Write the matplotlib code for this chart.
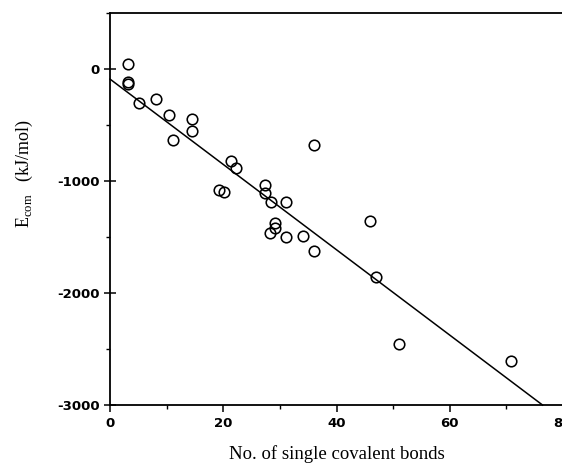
#!/usr/bin/env python3
"""Scatter of E_com against number of single covalent bonds, with fit line."""
import matplotlib

matplotlib.use("Agg")
import matplotlib.pyplot as plt
import numpy as np
from matplotlib.ticker import MultipleLocator

# data
BONDS = [3.2, 3.2, 3.2, 5.1, 8.1, 10.4, 11.1, 14.5, 14.5, 21.3, 22.2, 36.0,
         19.2, 20.1, 27.3, 27.3, 28.4, 31.0, 29.1, 29.1, 28.2, 31.0, 34.0,
         36.0, 46.0, 46.9, 51.0, 70.9]
ECOM = [45, -116, -135, -304, -268, -411, -634, -446, -554, -821, -884, -679,
        -1080, -1098, -1036, -1107, -1188, -1188, -1375, -1420, -1464, -1500,
        -1491, -1625, -1357, -1857, -2455, -2607]
FIT_X = [0, 76.4]
FIT_INTERCEPT = -90
FIT_SLOPE = -38.1

plt.rcParams.update({
    "axes.unicode_minus": False,
    "font.family": "DejaVu Sans",
})

fig = plt.figure(figsize=(5.62, 4.66), dpi=100)
ax = fig.add_axes([110 / 562, 1 - 405 / 466, 453 / 562, (405 - 13) / 466])

fx = np.array(FIT_X)
ax.plot(fx, FIT_INTERCEPT + FIT_SLOPE * fx, color="black", linewidth=1.1,
        clip_on=False)
ax.plot(BONDS, ECOM, linestyle="none", marker="o", markersize=7.6,
        markerfacecolor="none", markeredgecolor="black", markeredgewidth=1.15)

ax.set_xlim(0, 80)
ax.set_ylim(-3000, 500)
ax.xaxis.set_major_locator(MultipleLocator(20))
ax.xaxis.set_minor_locator(MultipleLocator(10))
ax.set_yticks([0, -1000, -2000, -3000])
ax.yaxis.set_minor_locator(MultipleLocator(500))
ax.tick_params(which="major", length=5, width=1.1)
ax.tick_params(which="minor", length=3, width=1.0)
ax.tick_params(axis="y", which="major", direction="inout", length=8)
for lab in ax.get_xticklabels() + ax.get_yticklabels():
    lab.set_fontweight("bold")
    lab.set_fontsize(9.5)
for side in ("left", "bottom", "top"):
    ax.spines[side].set_linewidth(1.3)
ax.spines["right"].set_visible(False)

ax.set_xlabel("No. of single covalent bonds", family="Liberation Serif",
              fontsize=13.5, labelpad=11)
ax.set_ylabel(r"E$_{\mathregular{com}}$   (kJ/mol)", family="Liberation Serif",
              fontsize=13)
ax.yaxis.set_label_coords(-0.165, 0.59)

fig.savefig("out.png", dpi=100)
